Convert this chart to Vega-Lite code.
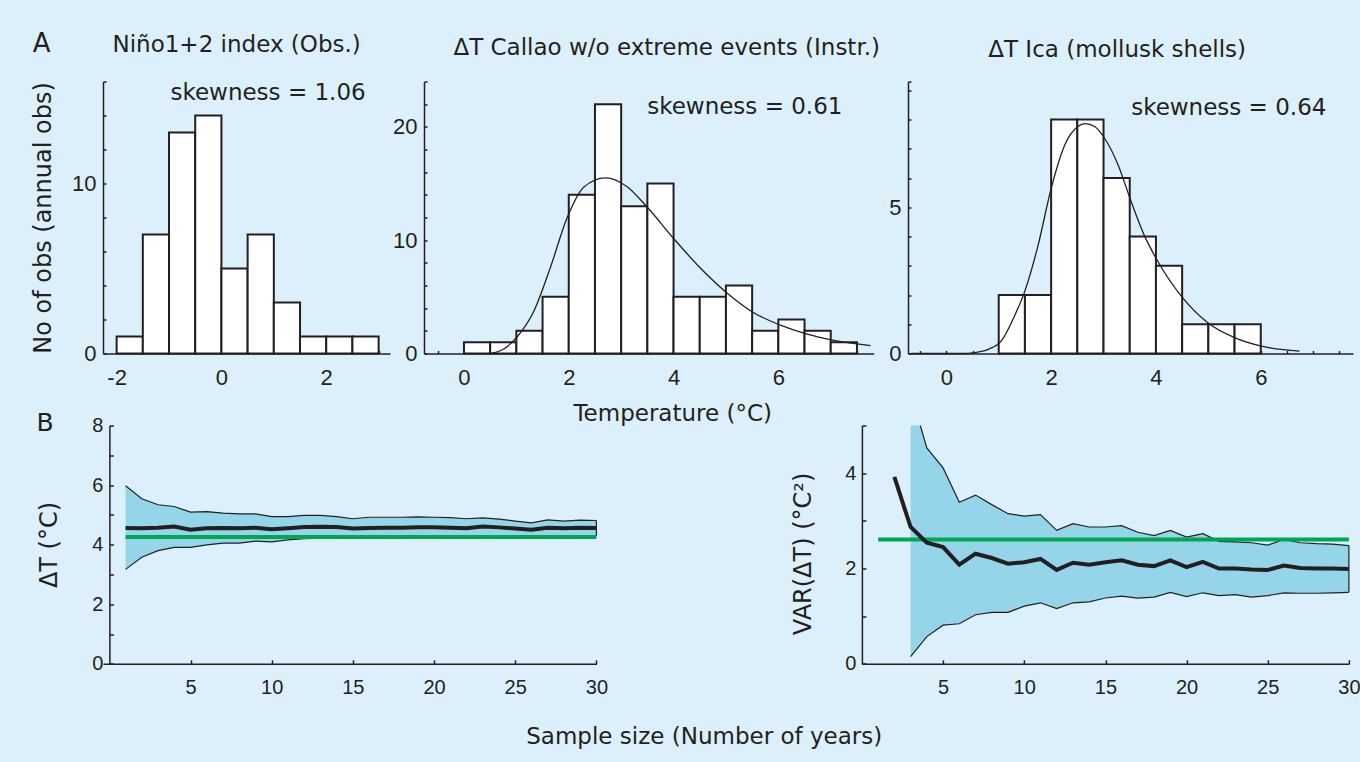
{
  "$schema": "https://vega.github.io/schema/vega-lite/v6.json",
  "background": "#dcf0fb",
  "padding": {"left": 31, "top": 30.5, "right": 1, "bottom": 19},
  "config": {
    "view": {"stroke": null},
    "font": "DejaVu Sans",
    "axis": {
      "domainColor": "#231f20", "domainWidth": 1.5,
      "tickColor": "#231f20", "tickWidth": 1.5, "tickSize": -3,
      "labelFont": "Liberation Sans", "labelFontSize": 22, "labelColor": "#231f20",
      "titleFont": "DejaVu Sans", "titleFontSize": 23, "titleFontWeight": "normal", "titleColor": "#231f20",
      "grid": false, "labelOverlap": false, "labelFlush": false
    }
  },
  "datasets": {
    "nino": [
      {"b0": -2, "b1": -1.5, "n": 1}, {"b0": -1.5, "b1": -1, "n": 7}, {"b0": -1, "b1": -0.5, "n": 13},
      {"b0": -0.5, "b1": 0, "n": 14}, {"b0": 0, "b1": 0.5, "n": 5}, {"b0": 0.5, "b1": 1, "n": 7},
      {"b0": 1, "b1": 1.5, "n": 3}, {"b0": 1.5, "b1": 2, "n": 1}, {"b0": 2, "b1": 2.5, "n": 1},
      {"b0": 2.5, "b1": 3, "n": 1}
    ],
    "callao": [
      {"b0": 0, "b1": 0.5, "n": 1}, {"b0": 0.5, "b1": 1, "n": 1}, {"b0": 1, "b1": 1.5, "n": 2},
      {"b0": 1.5, "b1": 2, "n": 5}, {"b0": 2, "b1": 2.5, "n": 14}, {"b0": 2.5, "b1": 3, "n": 22},
      {"b0": 3, "b1": 3.5, "n": 13}, {"b0": 3.5, "b1": 4, "n": 15}, {"b0": 4, "b1": 4.5, "n": 5},
      {"b0": 4.5, "b1": 5, "n": 5}, {"b0": 5, "b1": 5.5, "n": 6}, {"b0": 5.5, "b1": 6, "n": 2},
      {"b0": 6, "b1": 6.5, "n": 3}, {"b0": 6.5, "b1": 7, "n": 2}, {"b0": 7, "b1": 7.5, "n": 1}
    ],
    "ica": [
      {"b0": 1, "b1": 1.5, "n": 2}, {"b0": 1.5, "b1": 2, "n": 2}, {"b0": 2, "b1": 2.5, "n": 8},
      {"b0": 2.5, "b1": 3, "n": 8}, {"b0": 3, "b1": 3.5, "n": 6}, {"b0": 3.5, "b1": 4, "n": 4},
      {"b0": 4, "b1": 4.5, "n": 3}, {"b0": 4.5, "b1": 5, "n": 1}, {"b0": 5, "b1": 5.5, "n": 1},
      {"b0": 5.5, "b1": 6, "n": 1}
    ],
    "callaoFit": [
      {"t": 0.51, "f": 0}, {"t": 0.76, "f": 0.4}, {"t": 1.02, "f": 1.5}, {"t": 1.34, "f": 3.8},
      {"t": 1.65, "f": 7.6}, {"t": 1.97, "f": 12.0}, {"t": 2.29, "f": 14.7}, {"t": 2.70, "f": 15.5},
      {"t": 3.12, "f": 14.7}, {"t": 3.50, "f": 12.9}, {"t": 4.01, "f": 10.1}, {"t": 4.52, "f": 7.5},
      {"t": 5.03, "f": 5.3}, {"t": 5.53, "f": 3.6}, {"t": 6.04, "f": 2.5}, {"t": 6.55, "f": 1.7},
      {"t": 7.06, "f": 1.15}, {"t": 7.76, "f": 0.7}
    ],
    "icaFit": [
      {"t": -0.67, "f": 0}, {"t": 0.29, "f": 0}, {"t": 0.54, "f": 0.03}, {"t": 0.80, "f": 0.14},
      {"t": 1.05, "f": 0.43}, {"t": 1.30, "f": 1.28}, {"t": 1.49, "f": 2.09}, {"t": 1.75, "f": 3.69},
      {"t": 2.00, "f": 5.64}, {"t": 2.26, "f": 7.13}, {"t": 2.51, "f": 7.76}, {"t": 2.65, "f": 7.86},
      {"t": 2.83, "f": 7.76}, {"t": 3.02, "f": 7.36}, {"t": 3.28, "f": 6.44}, {"t": 3.53, "f": 5.18},
      {"t": 3.78, "f": 4.03}, {"t": 4.01, "f": 3.23}, {"t": 4.48, "f": 1.97}, {"t": 4.99, "f": 1.05},
      {"t": 5.50, "f": 0.54}, {"t": 6.01, "f": 0.25}, {"t": 6.74, "f": 0.08}
    ],
    "bA": [
      {"n": 1, "lo": 3.17, "m": 4.56, "hi": 5.98}, {"n": 2, "lo": 3.58, "m": 4.55, "hi": 5.54},
      {"n": 3, "lo": 3.80, "m": 4.57, "hi": 5.34}, {"n": 4, "lo": 3.91, "m": 4.61, "hi": 5.28},
      {"n": 5, "lo": 3.91, "m": 4.50, "hi": 5.09}, {"n": 6, "lo": 3.99, "m": 4.55, "hi": 5.11},
      {"n": 7, "lo": 4.05, "m": 4.56, "hi": 5.06}, {"n": 8, "lo": 4.05, "m": 4.55, "hi": 5.03},
      {"n": 9, "lo": 4.12, "m": 4.57, "hi": 5.03}, {"n": 10, "lo": 4.09, "m": 4.52, "hi": 4.94},
      {"n": 11, "lo": 4.16, "m": 4.55, "hi": 4.94}, {"n": 12, "lo": 4.20, "m": 4.59, "hi": 4.98},
      {"n": 13, "lo": 4.22, "m": 4.60, "hi": 4.98}, {"n": 14, "lo": 4.23, "m": 4.59, "hi": 4.94},
      {"n": 15, "lo": 4.22, "m": 4.54, "hi": 4.87}, {"n": 16, "lo": 4.24, "m": 4.56, "hi": 4.92},
      {"n": 17, "lo": 4.25, "m": 4.57, "hi": 4.92}, {"n": 18, "lo": 4.25, "m": 4.57, "hi": 4.92},
      {"n": 19, "lo": 4.26, "m": 4.58, "hi": 4.93}, {"n": 20, "lo": 4.26, "m": 4.58, "hi": 4.92},
      {"n": 21, "lo": 4.27, "m": 4.57, "hi": 4.91}, {"n": 22, "lo": 4.27, "m": 4.55, "hi": 4.87},
      {"n": 23, "lo": 4.28, "m": 4.61, "hi": 4.90}, {"n": 24, "lo": 4.28, "m": 4.58, "hi": 4.86},
      {"n": 25, "lo": 4.28, "m": 4.54, "hi": 4.79}, {"n": 26, "lo": 4.27, "m": 4.50, "hi": 4.73},
      {"n": 27, "lo": 4.29, "m": 4.57, "hi": 4.83}, {"n": 28, "lo": 4.29, "m": 4.55, "hi": 4.79},
      {"n": 29, "lo": 4.30, "m": 4.57, "hi": 4.82}, {"n": 30, "lo": 4.30, "m": 4.56, "hi": 4.81}
    ],
    "bB": [
      {"n": 2, "lo": null, "m": 3.92, "hi": null},
      {"n": 3, "lo": 0.15, "m": 2.87, "hi": 5.7}, {"n": 4, "lo": 0.57, "m": 2.54, "hi": 4.53},
      {"n": 5, "lo": 0.81, "m": 2.45, "hi": 4.11}, {"n": 6, "lo": 0.84, "m": 2.08, "hi": 3.39},
      {"n": 7, "lo": 1.03, "m": 2.31, "hi": 3.54}, {"n": 8, "lo": 1.08, "m": 2.22, "hi": 3.34},
      {"n": 9, "lo": 1.08, "m": 2.10, "hi": 3.15}, {"n": 10, "lo": 1.21, "m": 2.13, "hi": 3.10},
      {"n": 11, "lo": 1.28, "m": 2.20, "hi": 3.13}, {"n": 12, "lo": 1.16, "m": 1.97, "hi": 2.80},
      {"n": 13, "lo": 1.28, "m": 2.12, "hi": 2.94}, {"n": 14, "lo": 1.30, "m": 2.08, "hi": 2.87},
      {"n": 15, "lo": 1.38, "m": 2.13, "hi": 2.87}, {"n": 16, "lo": 1.42, "m": 2.17, "hi": 2.90},
      {"n": 17, "lo": 1.38, "m": 2.08, "hi": 2.76}, {"n": 18, "lo": 1.40, "m": 2.05, "hi": 2.69},
      {"n": 19, "lo": 1.50, "m": 2.17, "hi": 2.80}, {"n": 20, "lo": 1.41, "m": 2.03, "hi": 2.66},
      {"n": 21, "lo": 1.49, "m": 2.14, "hi": 2.73}, {"n": 22, "lo": 1.43, "m": 2.00, "hi": 2.57},
      {"n": 23, "lo": 1.45, "m": 2.00, "hi": 2.56}, {"n": 24, "lo": 1.40, "m": 1.98, "hi": 2.54},
      {"n": 25, "lo": 1.43, "m": 1.97, "hi": 2.49}, {"n": 26, "lo": 1.49, "m": 2.06, "hi": 2.61},
      {"n": 27, "lo": 1.48, "m": 2.01, "hi": 2.54}, {"n": 28, "lo": 1.48, "m": 2.00, "hi": 2.52},
      {"n": 29, "lo": 1.49, "m": 2.00, "hi": 2.51}, {"n": 30, "lo": 1.50, "m": 1.99, "hi": 2.48}
    ]
  },
  "spacing": -15,
  "vconcat": [
    {
      "hconcat": [
        {
          "width": 287, "height": 272,
          "layer": [
            {
              "data": {"name": "nino"},
              "mark": {"type": "bar", "fill": "white", "stroke": "#231f20", "strokeWidth": 2},
              "encoding": {
                "x": {"field": "b0", "type": "quantitative", "scale": {"domain": [-2.26, 3.217], "nice": false, "zero": false},
                      "axis": {"values": [-2, -1.5, -1, -0.5, 0, 0.5, 1, 1.5, 2, 2.5, 3], "tickCount": 100, "labelExpr": "datum.value % 2 === 0 ? '' + datum.value : ''", "labelOverlap": false, "title": null, "labelPadding": 17.4}},
                "x2": {"field": "b1"},
                "y": {"field": "n", "type": "quantitative", "scale": {"domain": [0, 16], "nice": false},
                      "axis": {"values": [0, 2, 4, 6, 8, 10, 12, 14, 16], "tickCount": 100, "labelExpr": "datum.value % 10 === 0 ? '' + datum.value : ''", "labelOverlap": false,
                               "title": "No of obs (annual obs)", "titleAngle": 270, "titleX": -52.3, "titleY": 136, "titleBaseline": "alphabetic", "titleAlign": "center", "titleFontSize": 24, "labelPadding": 10}},
                "y2": {"datum": 0}
              }
            },
            {
              "data": {"values": [{"x": 0.89, "y": 14.94, "t": "skewness = 1.06"}, {"x": 0.29, "y": 17.76, "t": "Niño1+2 index (Obs.)"}]},
              "mark": {"type": "text", "align": "center", "baseline": "alphabetic", "fontSize": 23, "font": "DejaVu Sans", "color": "#231f20"},
              "encoding": {
                "x": {"field": "x", "type": "quantitative", "scale": {"domain": [-2.26, 3.217], "nice": false, "zero": false}},
                "y": {"field": "y", "type": "quantitative", "scale": {"domain": [0, 16], "nice": false}},
                "text": {"field": "t"}
              }
            },
            {
              "data": {"values": [{"x": -3.6, "y": 17.76, "t": "A"}]},
              "mark": {"type": "text", "align": "left", "baseline": "alphabetic", "fontSize": 26, "font": "DejaVu Sans", "color": "#231f20"},
              "encoding": {
                "x": {"field": "x", "type": "quantitative", "scale": {"domain": [-2.26, 3.217], "nice": false, "zero": false}},
                "y": {"field": "y", "type": "quantitative", "scale": {"domain": [0, 16], "nice": false}},
                "text": {"field": "t"}
              }
            }
          ]
        },
        {
          "width": 449.7, "height": 272,
          "layer": [
            {
              "data": {"name": "callao"},
              "mark": {"type": "bar", "fill": "white", "stroke": "#231f20", "strokeWidth": 2},
              "encoding": {
                "x": {"field": "b0", "type": "quantitative", "scale": {"domain": [-0.763, 7.82], "nice": false, "zero": false},
                      "axis": {"values": [-0.5, 0, 0.5, 1, 1.5, 2, 2.5, 3, 3.5, 4, 4.5, 5, 5.5, 6, 6.5, 7, 7.5], "tickCount": 100, "labelExpr": "datum.value % 2 === 0 ? '' + datum.value : ''", "labelOverlap": false,
                               "title": "Temperature (°C)", "titleX": 248.2, "titleY": 66.5, "titleBaseline": "alphabetic", "titleAlign": "center", "labelPadding": 17.4}},
                "x2": {"field": "b1"},
                "y": {"field": "n", "type": "quantitative", "scale": {"domain": [0, 24], "nice": false},
                      "axis": {"values": [0, 2, 4, 6, 8, 10, 12, 14, 16, 18, 20, 22, 24], "tickCount": 100, "labelExpr": "datum.value % 10 === 0 ? '' + datum.value : ''", "labelOverlap": false, "title": null, "labelPadding": 10}},
                "y2": {"datum": 0}
              }
            },
            {
              "data": {"name": "callaoFit"},
              "mark": {"type": "line", "interpolate": "monotone", "stroke": "#231f20", "strokeWidth": 1.3},
              "encoding": {
                "x": {"field": "t", "type": "quantitative", "scale": {"domain": [-0.763, 7.82], "nice": false, "zero": false}},
                "y": {"field": "f", "type": "quantitative", "scale": {"domain": [0, 24], "nice": false}}
              }
            },
            {
              "data": {"values": [{"x": 5.36, "y": 21.09, "t": "skewness = 0.61"}, {"x": 3.87, "y": 26.38, "t": "ΔT Callao w/o extreme events (Instr.)"}]},
              "mark": {"type": "text", "align": "center", "baseline": "alphabetic", "fontSize": 23, "font": "DejaVu Sans", "color": "#231f20"},
              "encoding": {
                "x": {"field": "x", "type": "quantitative", "scale": {"domain": [-0.763, 7.82], "nice": false, "zero": false}},
                "y": {"field": "y", "type": "quantitative", "scale": {"domain": [0, 24], "nice": false}},
                "text": {"field": "t"}
              }
            }
          ]
        },
        {
          "width": 445, "height": 272,
          "layer": [
            {
              "data": {"name": "ica"},
              "mark": {"type": "bar", "fill": "white", "stroke": "#231f20", "strokeWidth": 2},
              "encoding": {
                "x": {"field": "b0", "type": "quantitative", "scale": {"domain": [-0.731, 7.76], "nice": false, "zero": false},
                      "axis": {"values": [-0.5, 0, 0.5, 1, 1.5, 2, 2.5, 3, 3.5, 4, 4.5, 5, 5.5, 6, 6.5, 7, 7.5], "tickCount": 100, "labelExpr": "datum.value % 2 === 0 ? '' + datum.value : ''", "labelOverlap": false, "title": null, "labelPadding": 17.4}},
                "x2": {"field": "b1"},
                "y": {"field": "n", "type": "quantitative", "scale": {"domain": [0, 9.3], "nice": false},
                      "axis": {"values": [0, 1, 2, 3, 4, 5, 6, 7, 8, 9, 9.3], "tickCount": 100, "labelExpr": "datum.value % 5 === 0 ? '' + datum.value : ''", "labelOverlap": false, "title": null, "labelPadding": 10}},
                "y2": {"datum": 0}
              }
            },
            {
              "data": {"name": "icaFit"},
              "mark": {"type": "line", "interpolate": "monotone", "stroke": "#231f20", "strokeWidth": 1.3},
              "encoding": {
                "x": {"field": "t", "type": "quantitative", "scale": {"domain": [-0.731, 7.76], "nice": false, "zero": false}},
                "y": {"field": "f", "type": "quantitative", "scale": {"domain": [0, 9.3], "nice": false}}
              }
            },
            {
              "data": {"values": [{"x": 5.39, "y": 8.14, "t": "skewness = 0.64"}, {"x": 3.26, "y": 10.15, "t": "ΔT Ica (mollusk shells)"}]},
              "mark": {"type": "text", "align": "center", "baseline": "alphabetic", "fontSize": 23, "font": "DejaVu Sans", "color": "#231f20"},
              "encoding": {
                "x": {"field": "x", "type": "quantitative", "scale": {"domain": [-0.731, 7.76], "nice": false, "zero": false}},
                "y": {"field": "y", "type": "quantitative", "scale": {"domain": [0, 9.3], "nice": false}},
                "text": {"field": "t"}
              }
            }
          ]
        }
      ],
      "spacing": 34,
      "bounds": "flush"
    },
    {
      "hconcat": [
        {
          "width": 493.4, "height": 238.3,
          "layer": [
            {
              "data": {"name": "bA"},
              "mark": {"type": "area", "fill": "#95d5ea", "opacity": 1},
              "encoding": {
                "x": {"field": "n", "type": "quantitative", "scale": {"domain": [-0.39, 30], "nice": false, "zero": false},
                      "axis": {"values": [5, 10, 15, 20, 25, 30], "tickCount": 100, "format": "d", "labelFontSize": 20, "tickSize": -4, "labelPadding": 18, "labelOverlap": false,
                               "title": "Sample size (Number of years)", "titleX": 600.7, "titleY": 79.7, "titleBaseline": "alphabetic", "titleAlign": "center"}},
                "y": {"field": "lo", "type": "quantitative", "scale": {"domain": [0, 8], "nice": false},
                      "axis": {"values": [0, 1, 2, 3, 4, 5, 6, 7, 8], "tickCount": 100, "labelExpr": "datum.value % 2 === 0 ? '' + datum.value : ''", "labelFontSize": 20, "tickSize": -4, "labelPadding": 10.5, "labelOverlap": false, "offset": -6.4,
                               "title": "ΔT (°C)", "titleAngle": 270, "titleX": -53.3, "titleY": 119, "titleBaseline": "alphabetic", "titleAlign": "center", "titleFontSize": 24}},
                "y2": {"field": "hi"}
              }
            },
            {
              "data": {"name": "bA"},
              "mark": {"type": "line", "stroke": "#231f20", "strokeWidth": 1.2},
              "encoding": {
                "x": {"field": "n", "type": "quantitative", "scale": {"domain": [-0.39, 30], "nice": false, "zero": false}},
                "y": {"field": "hi", "type": "quantitative", "scale": {"domain": [0, 8], "nice": false}}
              }
            },
            {
              "data": {"name": "bA"},
              "mark": {"type": "line", "stroke": "#231f20", "strokeWidth": 1.2},
              "encoding": {
                "x": {"field": "n", "type": "quantitative", "scale": {"domain": [-0.39, 30], "nice": false, "zero": false}},
                "y": {"field": "lo", "type": "quantitative", "scale": {"domain": [0, 8], "nice": false}}
              }
            },
            {
              "data": {"name": "bA"},
              "transform": [{"filter": "datum.n === 30"}],
              "mark": {"type": "rule", "stroke": "#231f20", "strokeWidth": 1.2},
              "encoding": {
                "x": {"field": "n", "type": "quantitative", "scale": {"domain": [-0.39, 30], "nice": false, "zero": false}},
                "y": {"field": "lo", "type": "quantitative", "scale": {"domain": [0, 8], "nice": false}},
                "y2": {"field": "hi"}
              }
            },
            {
              "data": {"values": [{"x1": 1, "x2": 30, "v": 4.26}]},
              "mark": {"type": "rule", "stroke": "#00a651", "strokeWidth": 4},
              "encoding": {
                "x": {"field": "x1", "type": "quantitative", "scale": {"domain": [-0.39, 30], "nice": false, "zero": false}},
                "x2": {"field": "x2"},
                "y": {"field": "v", "type": "quantitative", "scale": {"domain": [0, 8], "nice": false}}
              }
            },
            {
              "data": {"name": "bA"},
              "mark": {"type": "line", "stroke": "#231f20", "strokeWidth": 4},
              "encoding": {
                "x": {"field": "n", "type": "quantitative", "scale": {"domain": [-0.39, 30], "nice": false, "zero": false}},
                "y": {"field": "m", "type": "quantitative", "scale": {"domain": [0, 8], "nice": false}}
              }
            },
            {
              "data": {"values": [{"x": -4.48, "y": 7.83, "t": "B"}]},
              "mark": {"type": "text", "align": "left", "baseline": "alphabetic", "fontSize": 25, "font": "DejaVu Sans", "color": "#231f20"},
              "encoding": {
                "x": {"field": "x", "type": "quantitative", "scale": {"domain": [-0.39, 30], "nice": false, "zero": false}},
                "y": {"field": "y", "type": "quantitative", "scale": {"domain": [0, 8], "nice": false}},
                "text": {"field": "t"}
              }
            }
          ]
        },
        {
          "width": 487, "height": 238.3,
          "layer": [
            {
              "data": {"name": "bB"},
              "mark": {"type": "area", "fill": "#95d5ea", "opacity": 1, "clip": true},
              "encoding": {
                "x": {"field": "n", "type": "quantitative", "scale": {"domain": [0, 30], "nice": false, "zero": false},
                      "axis": {"values": [5, 10, 15, 20, 25, 30], "tickCount": 100, "format": "d", "labelFontSize": 20, "tickSize": -4, "labelPadding": 18, "labelOverlap": false, "title": null}},
                "y": {"field": "lo", "type": "quantitative", "scale": {"domain": [0, 5], "nice": false},
                      "axis": {"values": [0, 1, 2, 3, 4, 5], "tickCount": 100, "labelExpr": "datum.value % 2 === 0 ? '' + datum.value : ''", "labelFontSize": 20, "tickSize": -4, "labelPadding": 10, "labelOverlap": false,
                               "title": "VAR(ΔT) (°C²)", "titleAngle": 270, "titleX": -51.6, "titleY": 128, "titleBaseline": "alphabetic", "titleAlign": "center", "titleFontSize": 24}},
                "y2": {"field": "hi"}
              }
            },
            {
              "data": {"name": "bB"},
              "mark": {"type": "line", "stroke": "#231f20", "strokeWidth": 1.2, "clip": true},
              "encoding": {
                "x": {"field": "n", "type": "quantitative", "scale": {"domain": [0, 30], "nice": false, "zero": false}},
                "y": {"field": "hi", "type": "quantitative", "scale": {"domain": [0, 5], "nice": false}}
              }
            },
            {
              "data": {"name": "bB"},
              "mark": {"type": "line", "stroke": "#231f20", "strokeWidth": 1.2, "clip": true},
              "encoding": {
                "x": {"field": "n", "type": "quantitative", "scale": {"domain": [0, 30], "nice": false, "zero": false}},
                "y": {"field": "lo", "type": "quantitative", "scale": {"domain": [0, 5], "nice": false}}
              }
            },
            {
              "data": {"name": "bB"},
              "transform": [{"filter": "datum.n === 30"}],
              "mark": {"type": "rule", "stroke": "#231f20", "strokeWidth": 1.2},
              "encoding": {
                "x": {"field": "n", "type": "quantitative", "scale": {"domain": [0, 30], "nice": false, "zero": false}},
                "y": {"field": "lo", "type": "quantitative", "scale": {"domain": [0, 5], "nice": false}},
                "y2": {"field": "hi"}
              }
            },
            {
              "data": {"values": [{"x1": 1, "x2": 30, "v": 2.61}]},
              "mark": {"type": "rule", "stroke": "#00a651", "strokeWidth": 4},
              "encoding": {
                "x": {"field": "x1", "type": "quantitative", "scale": {"domain": [0, 30], "nice": false, "zero": false}},
                "x2": {"field": "x2"},
                "y": {"field": "v", "type": "quantitative", "scale": {"domain": [0, 5], "nice": false}}
              }
            },
            {
              "data": {"name": "bB"},
              "mark": {"type": "line", "stroke": "#231f20", "strokeWidth": 4, "clip": true},
              "encoding": {
                "x": {"field": "n", "type": "quantitative", "scale": {"domain": [0, 30], "nice": false, "zero": false}},
                "y": {"field": "m", "type": "quantitative", "scale": {"domain": [0, 5], "nice": false}}
              }
            }
          ]
        }
      ],
      "spacing": 264.9,
      "bounds": "flush"
    }
  ]
}
